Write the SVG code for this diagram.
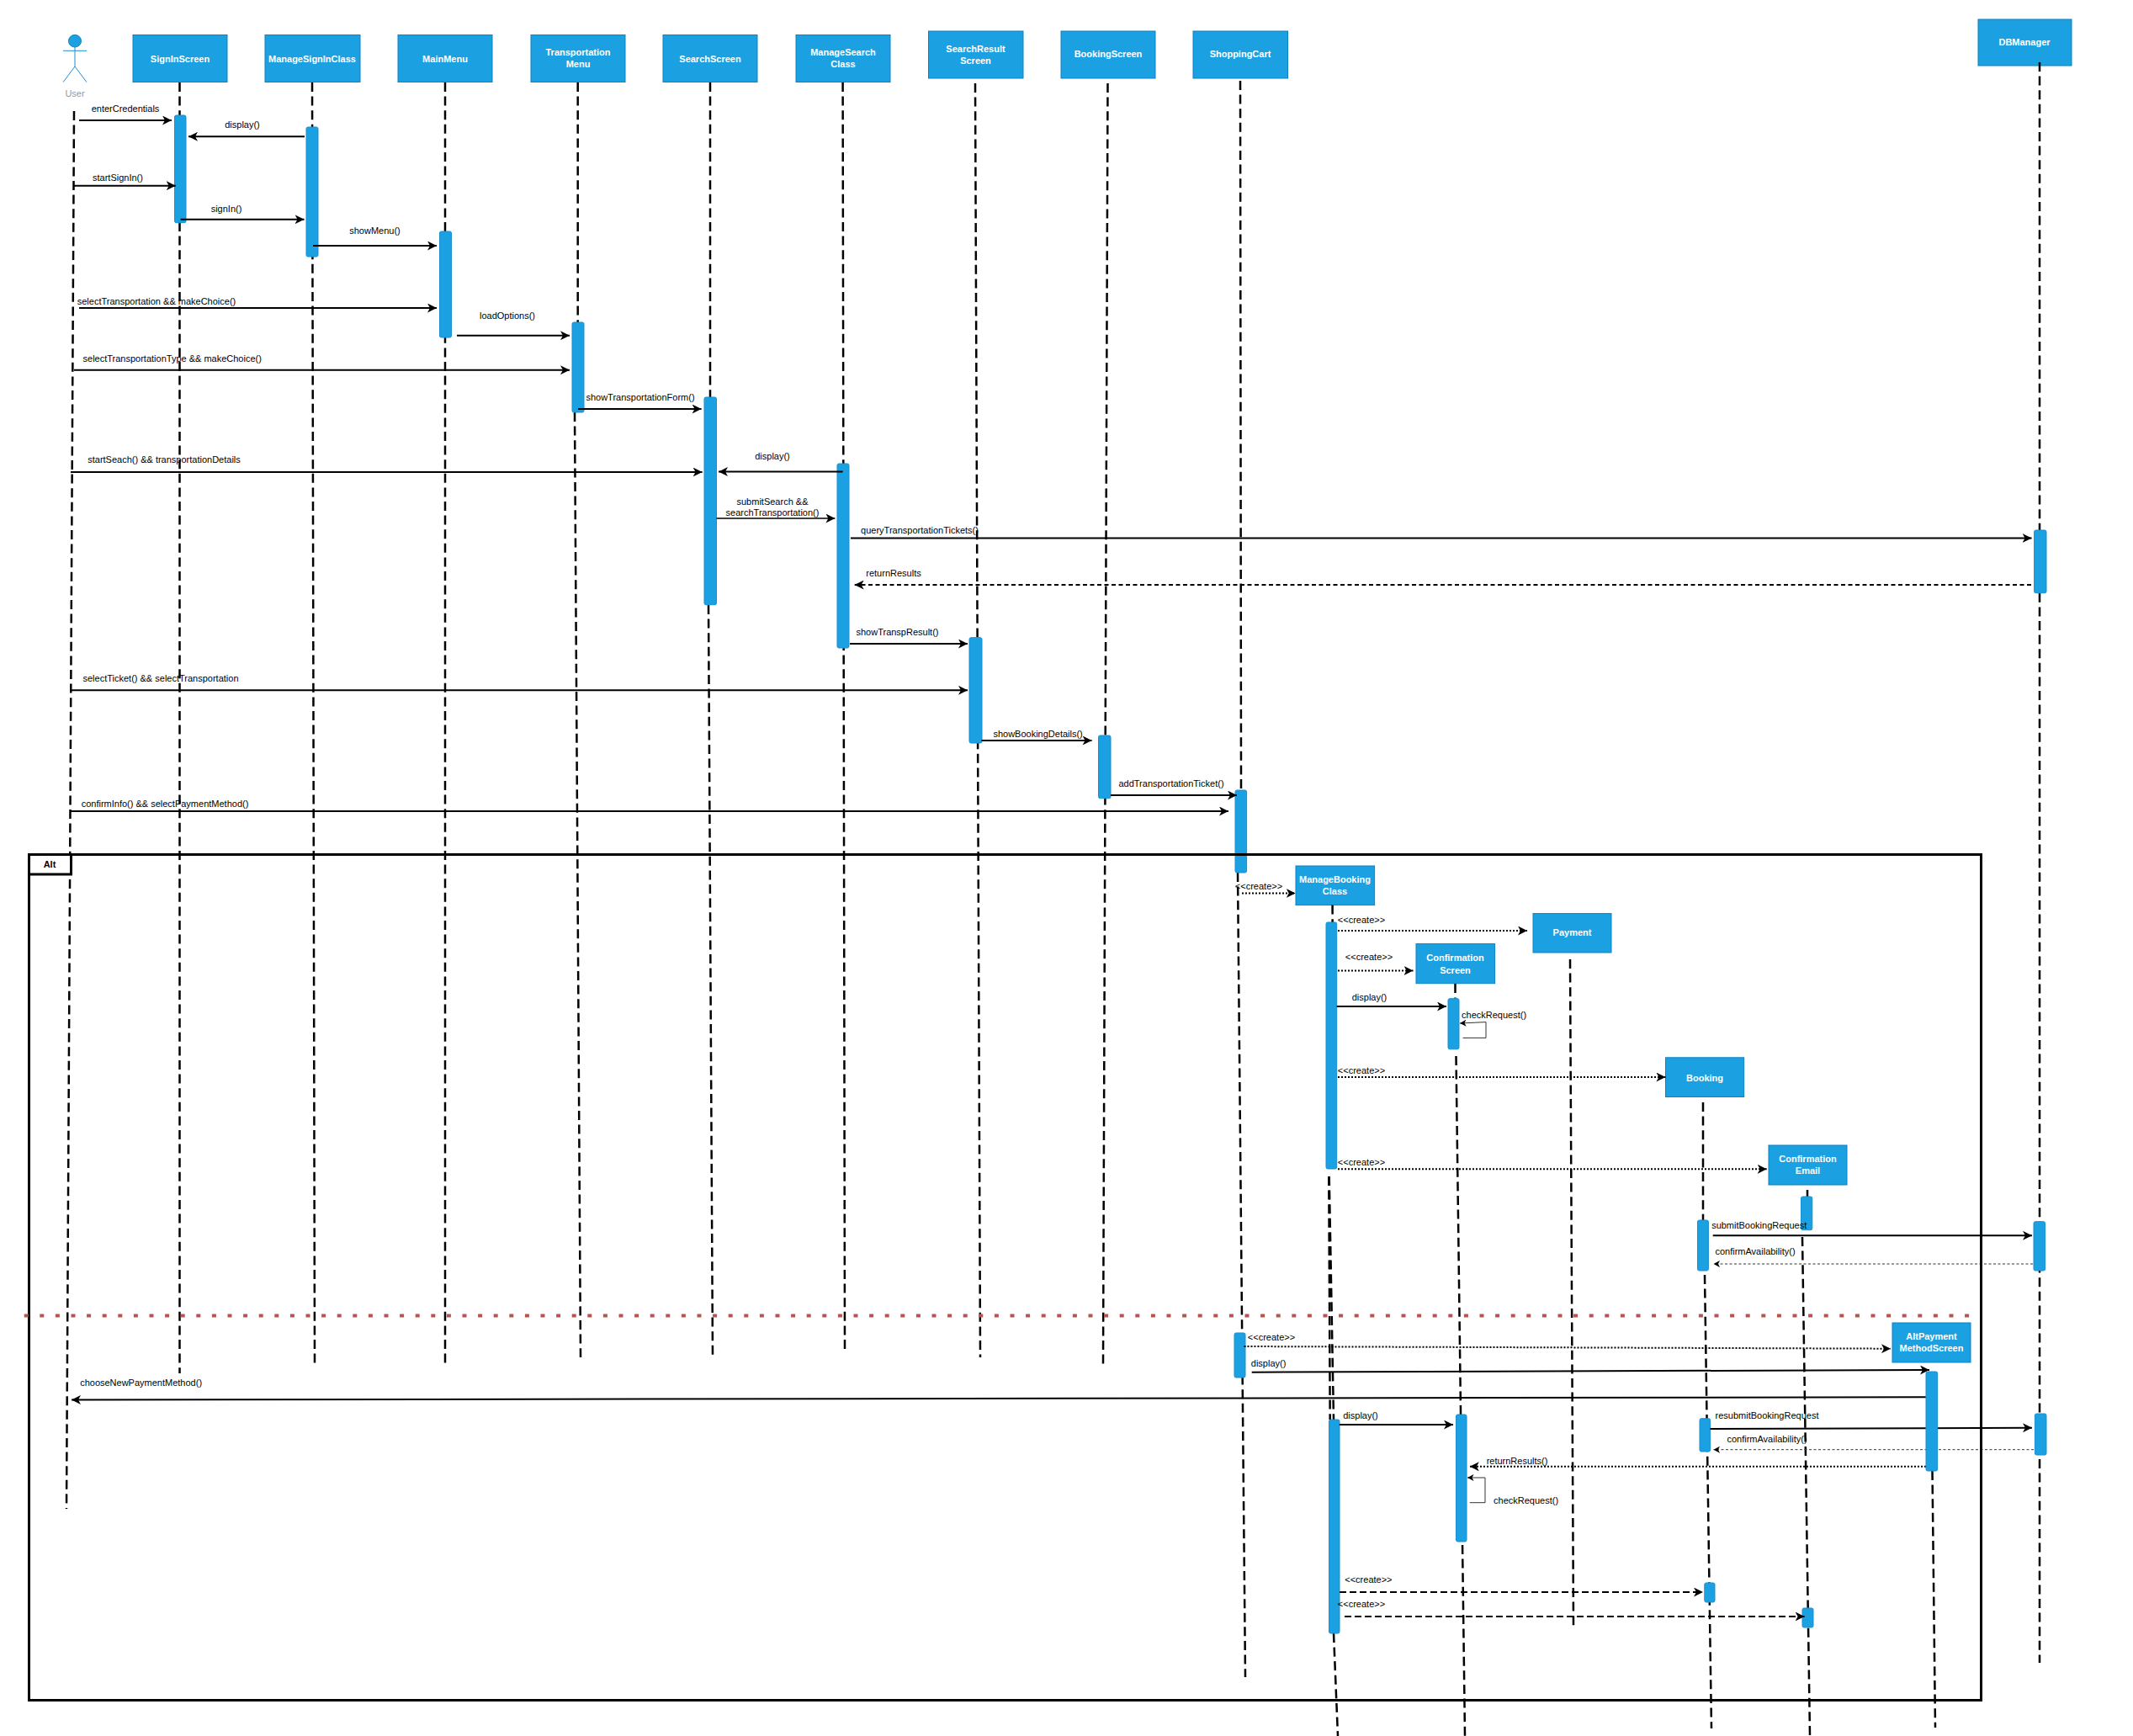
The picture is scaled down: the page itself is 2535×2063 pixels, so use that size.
<svg xmlns="http://www.w3.org/2000/svg" width="2535" height="2063" viewBox="0 0 2535 2063">
<style>
text{font-family:"Liberation Sans",Arial,sans-serif;font-size:11px;dominant-baseline:central;text-anchor:middle;fill:#000}
.box{fill:#1ba1e2;stroke:#0b82c4;stroke-width:1}
.act{fill:#1ba1e2;stroke:#1b8fd0;stroke-width:1}
.t{fill:#fff;font-weight:bold}
.life{stroke:#000;stroke-width:2.5;stroke-dasharray:11 5.6;fill:none}
.msg{stroke:#000;stroke-width:2;fill:none;marker-end:url(#arr)}
.thin{stroke-width:1.5}
.dot{stroke-dasharray:2 2}
.dash{stroke-dasharray:8 4}
.ret{stroke-dasharray:5 3.5}
.small{stroke:#333;stroke-width:1;stroke-dasharray:3 2.5;fill:none;marker-end:url(#arrs)}
.loop{stroke:#333;stroke-width:1;fill:none;marker-end:url(#arrs)}
</style>
<defs>
<marker id="arr" markerUnits="userSpaceOnUse" markerWidth="12" markerHeight="11" viewBox="0 0 12 11" refX="11" refY="5.5" orient="auto"><path d="M11 5.5L0 0L3 5.5L0 11Z" fill="#000"/></marker>
<marker id="arrs" markerUnits="userSpaceOnUse" markerWidth="8" markerHeight="8" viewBox="0 0 8 8" refX="7.5" refY="4" orient="auto"><path d="M7.5 4L0 0L2 4L0 8Z" fill="#000"/></marker>
</defs>
<rect width="2535" height="2063" fill="#fff"/>

<g id="User">
<ellipse cx="89" cy="48.7" rx="7.5" ry="7.3" fill="#1ba1e2" stroke="#0b82c4"/>
<path d="M89 56V79M75 60.3H103M75 97.7L89 79L103 97.7" fill="none" stroke="#1b8fd0" stroke-width="1"/>
<text x="89" y="111" style="fill:#999">User</text>
<line class="life" x1="88" y1="132" x2="79" y2="1793"/>
</g>
<g id="SignInScreen">
<rect class="box" x="158" y="41.5" width="112" height="56"/>
<line class="life" x1="213.5" y1="98" x2="213.5" y2="1632"/>
<text class="t" x="214" y="69.5">SignInScreen</text>
<rect class="act" x="207.5" y="137" width="13.5" height="127.7" rx="2"/>
</g>
<g id="ManageSignInClass">
<rect class="box" x="315" y="41.5" width="113" height="56"/>
<line class="life" x1="371" y1="98" x2="374" y2="1623"/>
<text class="t" x="371" y="69.5">ManageSignInClass</text>
<rect class="act" x="364" y="151" width="14" height="154" rx="2"/>
</g>
<g id="MainMenu">
<rect class="box" x="473" y="41.5" width="112" height="56"/>
<line class="life" x1="529" y1="98" x2="529" y2="1623"/>
<text class="t" x="529" y="69.5">MainMenu</text>
<rect class="act" x="522.5" y="275" width="14" height="126" rx="2"/>
</g>
<g id="TransportationMenu">
<rect class="box" x="631" y="41.5" width="112" height="56"/>
<line class="life" x1="686.7" y1="98" x2="686.7" y2="383"/>
<line class="life" x1="683" y1="490" x2="690" y2="1613"/>
<text class="t" x="687" y="62">Transportation</text>
<text class="t" x="687" y="76">Menu</text>
<rect class="act" x="680" y="383" width="14" height="107" rx="2"/>
</g>
<g id="SearchScreen">
<rect class="box" x="788" y="41.5" width="112" height="56"/>
<line class="life" x1="844" y1="98" x2="844" y2="472"/>
<line class="life" x1="842" y1="719" x2="847" y2="1613"/>
<text class="t" x="844" y="69.5">SearchScreen</text>
<rect class="act" x="837" y="472" width="14.5" height="246.7" rx="2"/>
</g>
<g id="ManageSearchClass">
<rect class="box" x="946" y="41.5" width="112" height="56"/>
<line class="life" x1="1001.6" y1="98" x2="1004" y2="1604"/>
<text class="t" x="1002" y="62.4">ManageSearch</text>
<text class="t" x="1002" y="76">Class</text>
<rect class="act" x="995" y="551" width="14" height="219" rx="2"/>
</g>
<g id="SearchResultScreen">
<rect class="box" x="1103.5" y="37" width="112.5" height="56"/>
<line class="life" x1="1159" y1="99" x2="1165" y2="1613"/>
<text class="t" x="1159.5" y="58">SearchResult</text>
<text class="t" x="1159.5" y="72">Screen</text>
<rect class="act" x="1152" y="757.7" width="15" height="125.3" rx="2"/>
</g>
<g id="BookingScreen">
<rect class="box" x="1261" y="37" width="112" height="56"/>
<line class="life" x1="1316.5" y1="99" x2="1311" y2="1622"/>
<text class="t" x="1317" y="64">BookingScreen</text>
<rect class="act" x="1305.5" y="874" width="14.5" height="74.7" rx="2"/>
</g>
<g id="ShoppingCart">
<rect class="box" x="1418" y="37" width="112.5" height="56"/>
<line class="life" x1="1474" y1="96" x2="1475" y2="939"/>
<line class="life" x1="1471" y1="1037" x2="1480" y2="1993"/>
<text class="t" x="1474" y="64">ShoppingCart</text>
<rect class="act" x="1468" y="939" width="13.6" height="98" rx="2"/>
<rect class="act" x="1467" y="1584" width="13" height="53" rx="2"/>
</g>
<g id="DBManager">
<rect class="box" x="2351" y="23" width="111" height="55"/>
<line class="life" x1="2424" y1="74" x2="2424" y2="1976"/>
<text class="t" x="2406" y="50">DBManager</text>
<rect class="act" x="2417.6" y="630" width="14.4" height="74.7" rx="2"/>
<rect class="act" x="2417" y="1451.7" width="13.6" height="58.3" rx="2"/>
<rect class="act" x="2418.4" y="1680" width="13.6" height="49" rx="2"/>
</g>
<g id="ManageBookingClass">
<rect class="box" x="1540" y="1029" width="93.6" height="46.6"/>
<line class="life" x1="1583.6" y1="1075.6" x2="1583.6" y2="1096"/>
<line class="life" x1="1579.3" y1="1398" x2="1580.7" y2="1687"/>
<line class="life" x1="1579.7" y1="1398" x2="1585" y2="1687"/>
<line class="life" x1="1585" y1="1941" x2="1590" y2="2063"/>
<text class="t" x="1586.5" y="1045.4">ManageBooking</text>
<text class="t" x="1586.5" y="1059">Class</text>
<rect class="act" x="1576" y="1096" width="12.7" height="293" rx="2"/>
<rect class="act" x="1579.5" y="1687" width="12.5" height="254" rx="2"/>
</g>
<g id="Payment">
<rect class="box" x="1822" y="1085.6" width="93" height="46.4"/>
<line class="life" x1="1866" y1="1140" x2="1870" y2="1932"/>
<text class="t" x="1868.5" y="1108">Payment</text>
</g>
<g id="ConfirmationScreen">
<rect class="box" x="1683" y="1121.6" width="93.6" height="47.1"/>
<line class="life" x1="1729.5" y1="1169" x2="1729.5" y2="1187"/>
<line class="life" x1="1730.5" y1="1255" x2="1741" y2="2063"/>
<text class="t" x="1729.5" y="1138">Confirmation</text>
<text class="t" x="1729.5" y="1152.6">Screen</text>
<rect class="act" x="1721" y="1186.7" width="13" height="60.1" rx="2"/>
<rect class="act" x="1730.5" y="1681" width="12.5" height="151" rx="2"/>
</g>
<g id="Booking">
<rect class="box" x="1979.5" y="1256.8" width="93.2" height="46.7"/>
<line class="life" x1="2024" y1="1310" x2="2024" y2="1451"/>
<line class="life" x1="2026" y1="1515" x2="2034" y2="2054"/>
<text class="t" x="2026" y="1280.5">Booking</text>
<rect class="act" x="2017.5" y="1450" width="12.9" height="60" rx="2"/>
<rect class="act" x="2020" y="1685.7" width="12.6" height="39.3" rx="2"/>
<rect class="act" x="2025.8" y="1881" width="12.2" height="23" rx="2"/>
</g>
<g id="ConfirmationEmail">
<rect class="box" x="2102" y="1361" width="93" height="47"/>
<line class="life" x1="2148" y1="1414" x2="2148" y2="1422"/>
<line class="life" x1="2142" y1="1470" x2="2151" y2="2062"/>
<text class="t" x="2148.5" y="1377.4">Confirmation</text>
<text class="t" x="2148.5" y="1391">Email</text>
<rect class="act" x="2140.5" y="1422" width="13.3" height="39.7" rx="2"/>
<rect class="act" x="2142" y="1911" width="13" height="23" rx="2"/>
</g>

<g id="connectors">
<line class="msg" x1="94" y1="143" x2="204" y2="143"/>
<line class="msg" x1="362" y1="162.3" x2="224" y2="162.3"/>
<line class="msg" x1="87" y1="220.7" x2="208.7" y2="220.7"/>
<line class="msg" x1="214.6" y1="260.7" x2="361.5" y2="260.7"/>
<line class="msg" x1="372" y1="292" x2="519" y2="292"/>
<line class="msg" x1="94" y1="366" x2="519" y2="366"/>
<line class="msg" x1="543" y1="398.7" x2="677" y2="398.7"/>
<line class="msg" x1="88" y1="439.7" x2="677" y2="439.7"/>
<line class="msg" x1="687" y1="486" x2="833.6" y2="486"/>
<line class="msg" x1="84" y1="561" x2="834.6" y2="561"/>
<line class="msg" x1="1001.6" y1="560.5" x2="854" y2="560.5"/>
<line class="msg thin" x1="851.5" y1="616" x2="992.4" y2="616"/>
<line class="msg" x1="1011" y1="639.5" x2="2414.6" y2="639.5"/>
<line class="msg ret" x1="2414" y1="695" x2="1015.7" y2="695"/>
<line class="msg" x1="1010" y1="765" x2="1150" y2="765"/>
<line class="msg" x1="84.5" y1="820.3" x2="1150" y2="820.3"/>
<line class="msg" x1="1166.4" y1="880" x2="1297.6" y2="880"/>
<line class="msg" x1="1320" y1="945" x2="1470" y2="945"/>
<line class="msg" x1="84" y1="964" x2="1460" y2="964"/>
<line class="msg dot" x1="1476" y1="1061.5" x2="1539.7" y2="1061.5"/>
<line class="msg dot" x1="1590" y1="1106" x2="1815" y2="1106"/>
<line class="msg dot" x1="1590" y1="1153.4" x2="1679.5" y2="1153.4"/>
<line class="msg" x1="1588.7" y1="1196" x2="1719" y2="1196"/>
<path class="loop" d="M1738.6 1233.4H1766V1214.6L1735 1216"/>
<line class="msg dot" x1="1590" y1="1280" x2="1979.4" y2="1280"/>
<line class="msg dot" x1="1590" y1="1389.3" x2="2099.7" y2="1389.3"/>
<line class="msg" x1="2035.7" y1="1468.3" x2="2415" y2="1468.3"/>
<line class="small" x1="2416" y1="1502" x2="2036.5" y2="1502"/>
<line class="msg dot" x1="1478.5" y1="1600" x2="2247" y2="1602.7"/>
<line class="msg" x1="1487.7" y1="1630.7" x2="2293" y2="1628"/>
<line class="msg" x1="2289" y1="1660.3" x2="85" y2="1663.5"/>
<line class="msg" x1="2032.4" y1="1698" x2="2415" y2="1696.7"/>
<line class="small" x1="2417" y1="1722.7" x2="2036.5" y2="1722.7"/>
<line class="msg dot" x1="2289" y1="1742.8" x2="1746.8" y2="1742.8"/>
<path class="loop" d="M1746.8 1785.7H1765V1756H1744"/>
<line class="msg" x1="1591.8" y1="1693" x2="1727" y2="1693"/>
<line class="msg dash" x1="1592" y1="1892" x2="2024" y2="1892"/>
<line class="msg dash" x1="1598" y1="1921" x2="2144.6" y2="1921"/>
</g>

<g id="AltPaymentMethodScreen">
<line class="life" x1="2296.5" y1="1748" x2="2300" y2="2053"/>
<rect class="box" x="2249" y="1572" width="93" height="47"/>
<text class="t" x="2295.5" y="1588">AltPayment</text>
<text class="t" x="2295.5" y="1602.3">MethodScreen</text>
<rect class="act" x="2289" y="1630" width="13.6" height="118" rx="2"/>
</g>

<g id="alt-frame">
<rect x="34.5" y="1015.5" width="2320" height="1005" fill="none" stroke="#000" stroke-width="3"/>
<rect x="34.5" y="1015.5" width="50" height="23.5" fill="#fff" stroke="#000" stroke-width="3"/>
<text x="59" y="1027" font-weight="bold">Alt</text>
<line x1="28.7" y1="1563.5" x2="2352" y2="1563.5" stroke="#b85450" stroke-width="4" stroke-dasharray="5 13.6"/>
</g>

<g id="connector-labels">
<text x="149" y="129">enterCredentials</text>
<text x="288" y="148">display()</text>
<text x="140" y="211">startSignIn()</text>
<text x="269" y="248">signIn()</text>
<text x="445.5" y="274">showMenu()</text>
<text x="186" y="358">selectTransportation &amp;&amp; makeChoice()</text>
<text x="603" y="375">loadOptions()</text>
<text x="204.7" y="426">selectTransportationType &amp;&amp; makeChoice()</text>
<text x="761" y="472">showTransportationForm()</text>
<text x="195" y="546">startSeach() &amp;&amp; transportationDetails</text>
<text x="918" y="542">display()</text>
<text x="918" y="596">submitSearch &amp;&amp;</text>
<text x="918" y="609">searchTransportation()</text>
<text x="1093" y="630">queryTransportationTickets()</text>
<text x="1062" y="681">returnResults</text>
<text x="1066.5" y="750.7">showTranspResult()</text>
<text x="191" y="806">selectTicket() &amp;&amp; selectTransportation</text>
<text x="1233.6" y="871.7">showBookingDetails()</text>
<text x="1392" y="931">addTransportationTicket()</text>
<text x="196" y="954.6">confirmInfo() &amp;&amp; selectPaymentMethod()</text>
<text x="1496" y="1052.6">&lt;&lt;create&gt;&gt;</text>
<text x="1618" y="1093">&lt;&lt;create&gt;&gt;</text>
<text x="1627" y="1136.5">&lt;&lt;create&gt;&gt;</text>
<text x="1627.5" y="1184.8">display()</text>
<text x="1775.6" y="1205.5">checkRequest()</text>
<text x="1618" y="1271.7">&lt;&lt;create&gt;&gt;</text>
<text x="1618" y="1380.5">&lt;&lt;create&gt;&gt;</text>
<text x="2090.7" y="1456">submitBookingRequest</text>
<text x="2086" y="1487">confirmAvailability()</text>
<text x="1511" y="1589.3">&lt;&lt;create&gt;&gt;</text>
<text x="1507.6" y="1620">display()</text>
<text x="167.6" y="1642.5">chooseNewPaymentMethod()</text>
<text x="2100" y="1682.3">resubmitBookingRequest</text>
<text x="2100" y="1710">confirmAvailability()</text>
<text x="1803" y="1736">returnResults()</text>
<text x="1813.6" y="1783">checkRequest()</text>
<text x="1617" y="1682">display()</text>
<text x="1626.4" y="1877">&lt;&lt;create&gt;&gt;</text>
<text x="1618" y="1906">&lt;&lt;create&gt;&gt;</text>
</g>
</svg>
